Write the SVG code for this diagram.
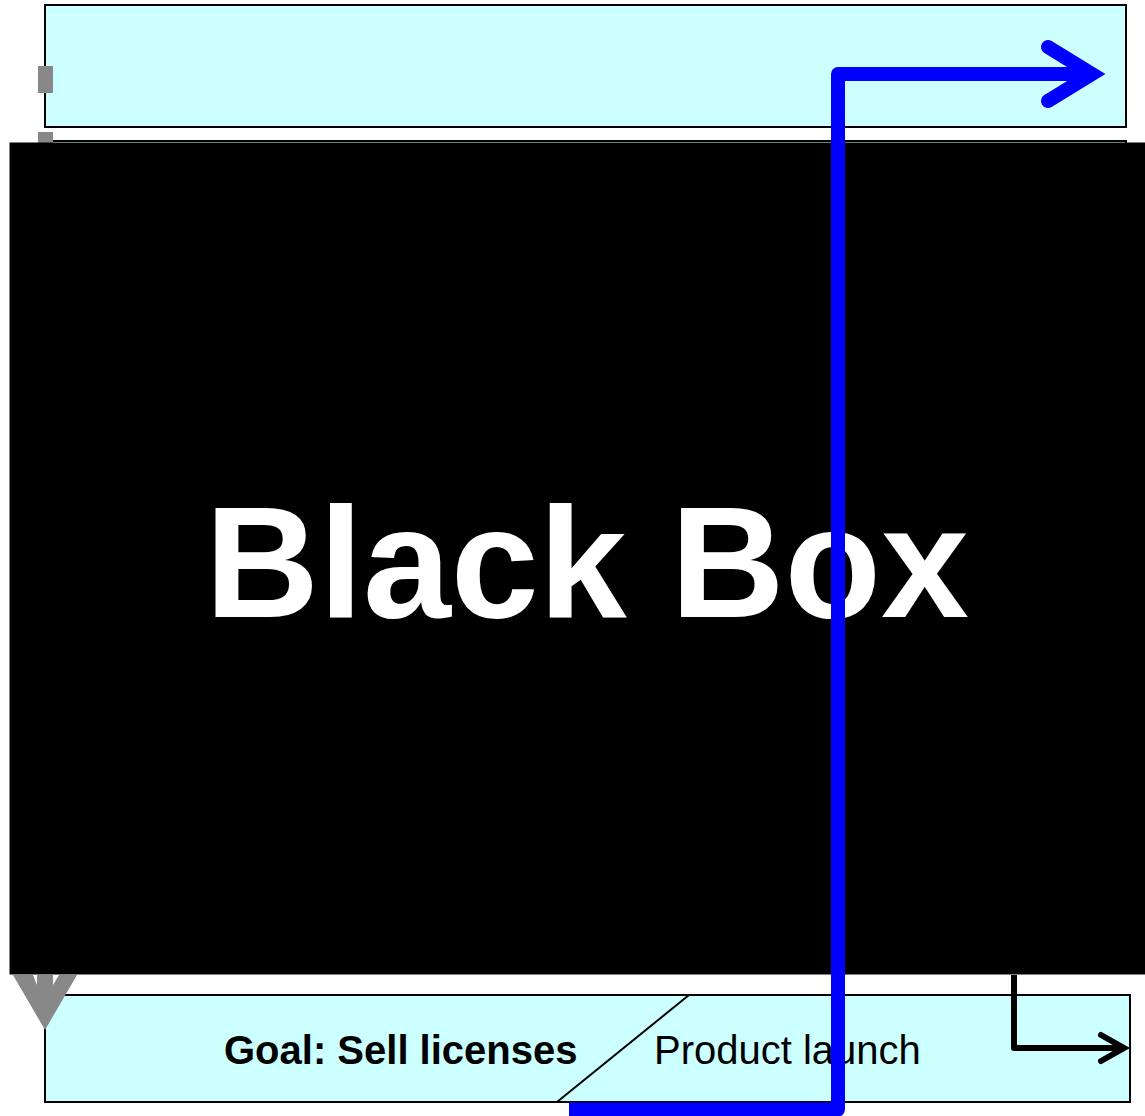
<svg xmlns="http://www.w3.org/2000/svg" width="1145" height="1116" viewBox="0 0 1145 1116">
<defs>
<style>
.box{fill:#CCFFFF;stroke:#000;stroke-width:2}
.lbl{font-family:"Liberation Sans",Arial,sans-serif;font-size:40px;fill:#000}
.blue{fill:none;stroke:#0000FF;stroke-width:14}
.blk{fill:none;stroke:#000;stroke-width:6}
</style>
</defs>
<rect width="1145" height="1116" fill="#fff"/>
<g id="node-top"><rect class="box" x="45" y="5" width="1081" height="122"/></g>
<g id="node-middle"><rect class="box" x="45" y="141" width="1081" height="830"/></g>
<g id="node-bottom">
<rect class="box" x="45" y="995" width="1085" height="107"/>
<line x1="557" y1="1102" x2="689" y2="995" stroke="#000" stroke-width="2"/>
<text class="lbl" x="224" y="1064" font-weight="bold">Goal: Sell licenses</text>
<text class="lbl" x="654" y="1064">Product launch</text>
</g>
<g id="connectors-under">
<line x1="45.5" y1="66" x2="45.5" y2="975" stroke="#888" stroke-width="15" stroke-dasharray="27 39"/>
<polygon points="13,975 77,975 45,1030" fill="#888"/>
<polygon points="33,975 37,975 37,985" fill="#fff"/>
<polygon points="53,975 59,975 53,985" fill="#fff"/>
</g>
<g id="node-blackbox">
<rect x="9.5" y="142.5" width="1160" height="832" fill="#000"/>
<text x="587" y="617" text-anchor="middle" font-family="'Liberation Sans',Arial,sans-serif" font-weight="bold" font-size="158" fill="#fff">Black Box</text>
</g>
<g id="connectors">
<path class="blue" d="M569,1109.5 H838 V74 H1094" stroke-linejoin="round"/>
<polyline class="blue" points="1048,47 1092,74 1048,101" stroke-linecap="round" stroke-linejoin="miter"/>
<path class="blk" d="M1014,975 V1048 H1124" stroke-linejoin="round"/>
<polyline class="blk" points="1101,1035 1124,1048 1101,1061" stroke-linecap="round" stroke-linejoin="miter"/>
</g>
</svg>
